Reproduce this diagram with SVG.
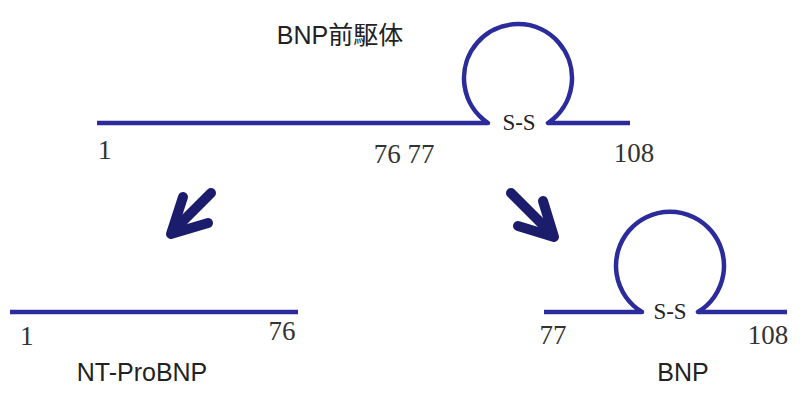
<svg xmlns="http://www.w3.org/2000/svg" width="800" height="400" viewBox="0 0 800 400">
<style>
.chain{fill:none;stroke:#2b2b9c;stroke-width:4.5;stroke-linejoin:round}
.num{font-family:"Liberation Serif",serif;font-size:27px;fill:#333}
.ss{font-family:"Liberation Serif",serif;font-size:23px;fill:#222}
.lbl{font-family:"Liberation Sans","Noto Sans CJK JP",sans-serif;font-size:25px;fill:#222}
.arr{fill:none;stroke:#1c1c6c;stroke-width:10;stroke-linecap:round;stroke-linejoin:round}
</style>
<rect width="800" height="400" fill="#fff"/>
<g id="precursor">
<text class="lbl" x="340" y="44" text-anchor="middle">BNP前駆体</text>
<path class="chain" d="M97 123 H488 A54 54 0 1 1 548 123 H630"/>
<text class="ss" x="519" y="130" text-anchor="middle">S-S</text>
<text class="num" x="98" y="159">1</text>
<text class="num" x="404" y="163" text-anchor="middle">76 77</text>
<text class="num" x="634" y="162" text-anchor="middle">108</text>
</g>
<g id="connectors">
<path class="arr" d="M211 193 L172 232"/>
<path class="arr" d="M183 197 L171 234 L208 223"/>
<path class="arr" d="M511 193 L552 234"/>
<path class="arr" d="M543 201 L554 237 L518 226"/>
</g>
<g id="ntprobnp">
<path class="chain" d="M10 312 H298"/>
<text class="num" x="20" y="345">1</text>
<text class="num" x="282" y="340" text-anchor="middle">76</text>
<text class="lbl" x="142" y="381" text-anchor="middle">NT-ProBNP</text>
</g>
<g id="bnp">
<path class="chain" d="M544 312 H642 A54 54 0 1 1 698 312 H787"/>
<text class="ss" x="670" y="319" text-anchor="middle">S-S</text>
<text class="num" x="553" y="344" text-anchor="middle">77</text>
<text class="num" x="768" y="344" text-anchor="middle">108</text>
<text class="lbl" x="683" y="381" text-anchor="middle">BNP</text>
</g>
</svg>
